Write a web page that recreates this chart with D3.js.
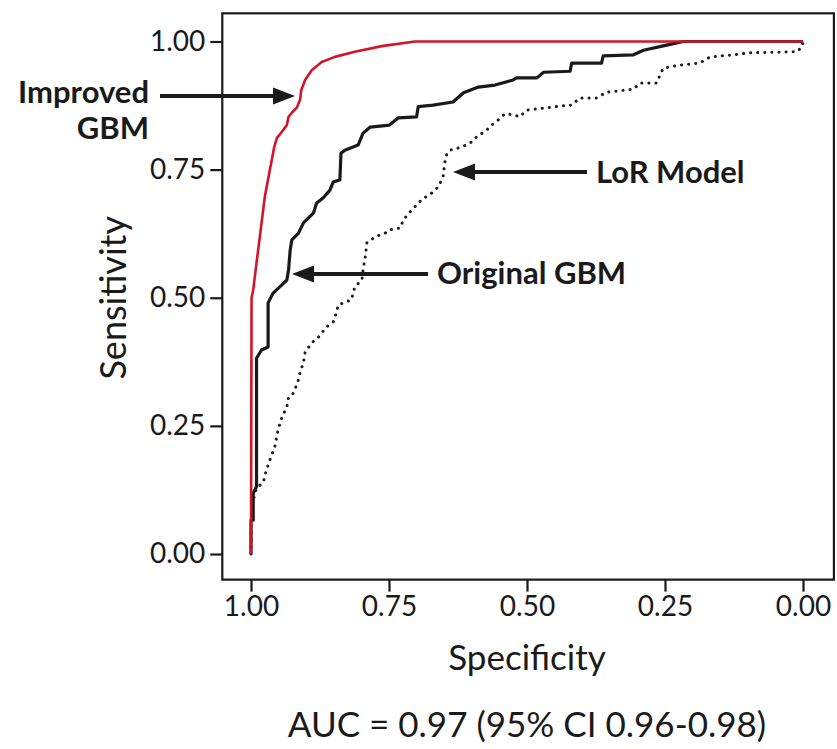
<!DOCTYPE html>
<html>
<head>
<meta charset="utf-8">
<script src="https://cdn.jsdelivr.net/npm/d3@7"></script>
<style>
  body { margin: 0; background: #fff; }
  svg { display: block; font-family: Lato, "Open Sans", sans-serif; }
</style>
</head>
<body>
<svg id="chart" width="837" height="749"></svg>
<script>
// ROC curves, [specificity, sensitivity]
const improvedGBM = [
  [1.0, 0], [0.999, 0.50], [0.996, 0.515], [0.990, 0.568], [0.984, 0.619], [0.975, 0.697],
  [0.966, 0.749], [0.960, 0.782], [0.958, 0.794], [0.953, 0.812], [0.944, 0.824], [0.935, 0.837],
  [0.932, 0.853], [0.926, 0.861], [0.917, 0.871], [0.911, 0.887], [0.909, 0.905], [0.902, 0.925],
  [0.890, 0.944], [0.872, 0.960], [0.848, 0.970], [0.812, 0.980], [0.763, 0.991], [0.703, 1.0],
  [0.643, 1.0], [0, 1.0]
];

const originalGBM = [
  [1.0, 0], [1.0, 0.066], [0.996, 0.066], [0.996, 0.119], [0.990, 0.131], [0.990, 0.382],
  [0.981, 0.398], [0.969, 0.404], [0.969, 0.490], [0.960, 0.509], [0.944, 0.525], [0.935, 0.535],
  [0.932, 0.554], [0.929, 0.593], [0.926, 0.613], [0.914, 0.626], [0.905, 0.646], [0.887, 0.665],
  [0.881, 0.685], [0.869, 0.695], [0.857, 0.710], [0.851, 0.726], [0.839, 0.730], [0.837, 0.782],
  [0.830, 0.788], [0.806, 0.798], [0.797, 0.821], [0.784, 0.833], [0.749, 0.837], [0.733, 0.851],
  [0.700, 0.853], [0.697, 0.873], [0.670, 0.876], [0.634, 0.882], [0.615, 0.900], [0.588, 0.911],
  [0.558, 0.915], [0.525, 0.925], [0.519, 0.929], [0.482, 0.929], [0.470, 0.940], [0.422, 0.942],
  [0.419, 0.958], [0.365, 0.958], [0.362, 0.972], [0.307, 0.974], [0.289, 0.983], [0.247, 0.993],
  [0.217, 1.0], [0, 1.0]
];

const lorModel = [
  [1.0, 0], [0.999, 0.086], [0.996, 0.105], [0.990, 0.129], [0.978, 0.139], [0.972, 0.164],
  [0.966, 0.183], [0.957, 0.209], [0.951, 0.242], [0.944, 0.267], [0.935, 0.287], [0.932, 0.306],
  [0.923, 0.314], [0.914, 0.340], [0.911, 0.355], [0.905, 0.373], [0.902, 0.394], [0.890, 0.412],
  [0.878, 0.423], [0.863, 0.443], [0.851, 0.453], [0.845, 0.472], [0.842, 0.486], [0.818, 0.496],
  [0.812, 0.521], [0.799, 0.535], [0.797, 0.554], [0.793, 0.580], [0.790, 0.607], [0.775, 0.619],
  [0.757, 0.626], [0.751, 0.632], [0.730, 0.636], [0.724, 0.652], [0.709, 0.671], [0.691, 0.691],
  [0.673, 0.704], [0.661, 0.716], [0.652, 0.736], [0.649, 0.763], [0.645, 0.782], [0.639, 0.788],
  [0.618, 0.794], [0.603, 0.802], [0.588, 0.817], [0.576, 0.824], [0.564, 0.837], [0.552, 0.847],
  [0.540, 0.859], [0.525, 0.857], [0.513, 0.853], [0.501, 0.866], [0.470, 0.870], [0.440, 0.874],
  [0.419, 0.876], [0.404, 0.890], [0.374, 0.890], [0.356, 0.901], [0.307, 0.907], [0.295, 0.919],
  [0.265, 0.919], [0.259, 0.935], [0.253, 0.948], [0.223, 0.954], [0.187, 0.958], [0.168, 0.970],
  [0.126, 0.974], [0.096, 0.978], [0.011, 0.980], [0.002, 0.989], [0, 1.0]
];

const tickValues = [1.00, 0.75, 0.50, 0.25, 0.00];

const svg = d3.select('#chart');
const ink = '#1a1a1a';

const x = d3.scaleLinear().domain([1, 0]).range([251, 803]);
const y = d3.scaleLinear().domain([0, 1]).range([554, 41.5]);

// panel frame
svg.append('rect')
  .attr('x', x(1.052)).attr('y', y(1.055))
  .attr('width', x(-0.056) - x(1.052))
  .attr('height', y(-0.05) - y(1.055))
  .attr('fill', 'none').attr('stroke', ink).attr('stroke-width', 2.2);

// axes
const xAxis = svg.append('g')
  .attr('transform', `translate(0,${y(-0.05)})`)
  .call(d3.axisBottom(x).tickValues(tickValues).tickFormat(d3.format('.2f')).tickSize(12).tickPadding(4));
const yAxis = svg.append('g')
  .attr('transform', `translate(${x(1.052)},0)`)
  .call(d3.axisLeft(y).tickValues(tickValues).tickFormat(d3.format('.2f')).tickSize(12).tickPadding(5));

[xAxis, yAxis].forEach(g => {
  g.select('.domain').remove();
  g.selectAll('line').attr('stroke', ink).attr('stroke-width', 2.2);
  g.selectAll('text').attr('fill', ink).style('font-size', '28px').style('font-family', 'Lato, sans-serif');
});

// curves
const line = d3.line().x(d => x(d[0])).y(d => y(d[1]));

svg.append('path').datum(lorModel)
  .attr('d', line).attr('fill', 'none')
  .attr('stroke', ink).attr('stroke-width', 3)
  .attr('stroke-linecap', 'round').attr('stroke-dasharray', '0.1 7');

svg.append('path').datum(originalGBM)
  .attr('d', line).attr('fill', 'none')
  .attr('stroke', ink).attr('stroke-width', 3.2).attr('stroke-linejoin', 'round');

svg.append('path').datum(improvedGBM)
  .attr('d', line).attr('fill', 'none')
  .attr('stroke', '#d2152b').attr('stroke-width', 2.6).attr('stroke-linejoin', 'round');

// axis titles
svg.append('text')
  .attr('transform', `translate(126,${y(0.5)}) rotate(-90)`)
  .attr('text-anchor', 'middle').attr('fill', ink)
  .style('font-size', '36px').text('Sensitivity');

svg.append('text')
  .attr('x', x(0.5)).attr('y', 670)
  .attr('text-anchor', 'middle').attr('fill', ink)
  .style('font-size', '35px').text('Specificity');

svg.append('text')
  .attr('x', x(0.5)).attr('y', 737)
  .attr('text-anchor', 'middle').attr('fill', ink)
  .style('font-size', '35px').text('AUC = 0.97 (95% CI 0.96-0.98)');

// annotations with arrows
function arrow(x1, x2, yy) {
  const dir = Math.sign(x2 - x1);
  const head = 22, half = 8.5;
  svg.append('line')
    .attr('x1', x1).attr('x2', x2 - dir * head).attr('y1', yy).attr('y2', yy)
    .attr('stroke', ink).attr('stroke-width', 4);
  svg.append('path')
    .attr('d', `M${x2},${yy}L${x2 - dir * head},${yy - half}L${x2 - dir * head},${yy + half}Z`)
    .attr('fill', ink);
}

arrow(160, 295, 96);
arrow(587, 453, 172);
arrow(428, 292, 274);

const label = (tx, ty, anchor, str) => svg.append('text')
  .attr('x', tx).attr('y', ty).attr('text-anchor', anchor)
  .attr('fill', ink).style('font-size', '31px').style('font-weight', 'bold')
  .text(str);

label(149, 103, 'end', 'Improved');
label(149, 139, 'end', 'GBM');
label(596, 183, 'start', 'LoR Model');
label(437, 284, 'start', 'Original GBM');
</script>
</body>
</html>
